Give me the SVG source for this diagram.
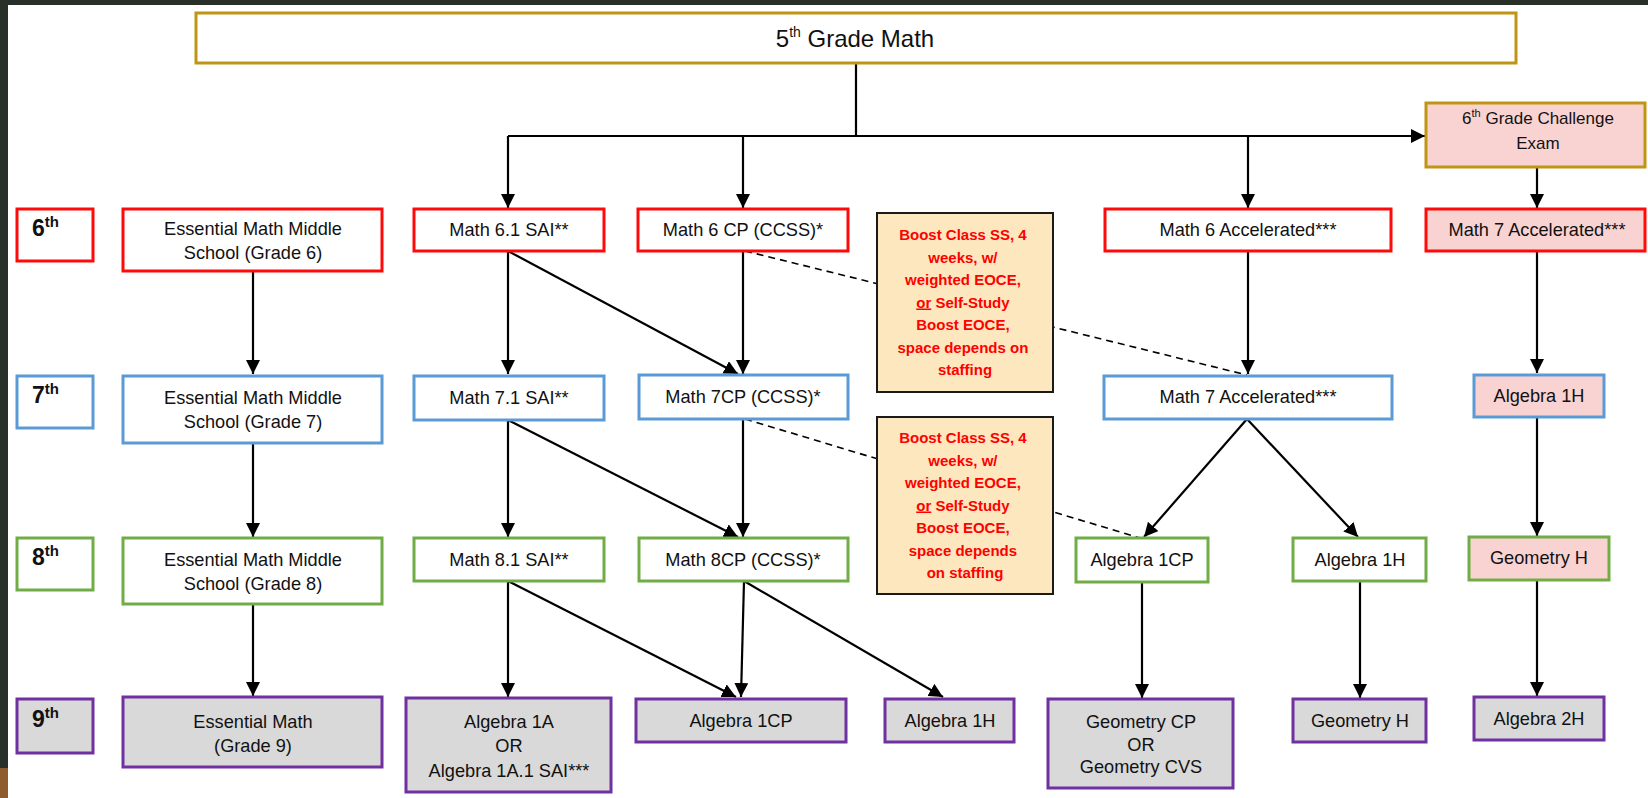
<svg xmlns="http://www.w3.org/2000/svg" width="1648" height="798" viewBox="0 0 1648 798">
  <style>
    text { font-family: "Liberation Sans", Arial, sans-serif; fill: #111; }
    .t { font-size: 18.2px; text-anchor: middle; }
    .lbl { font-size: 23px; font-weight: bold; }
    .sup { font-size: 15px; }
    .boost { font-size: 15px; font-weight: bold; fill: #ff0000; text-anchor: middle; }
    .box { stroke-width: 3; }
    .red { stroke: #ff0a0a; fill: #ffffff; }
    .blue { stroke: #5b9bd5; fill: #ffffff; }
    .green { stroke: #70ad47; fill: #ffffff; }
    .purple { stroke: #7030a0; fill: #d9d9d9; }
    .gold { stroke: #c09414; fill: #ffffff; }
    .pinkfill { fill: #f9d3d2; }
    .note { stroke: #1a1a1a; stroke-width: 2; fill: #fde7bf; }
    .c { stroke: #000; stroke-width: 2.2; fill: none; }
    .arr { marker-end: url(#ah); }
    .dash { stroke: #000; stroke-width: 1.6; stroke-dasharray: 7 5; fill: none; }
  </style>
  <defs>
    <marker id="ah" markerUnits="userSpaceOnUse" markerWidth="14" markerHeight="14" refX="14" refY="7" orient="auto">
      <path d="M0,0 L14,7 L0,14 z" fill="#000"/>
    </marker>
  </defs>

  <!-- page background and frame strips -->
  <rect x="0" y="0" width="1648" height="798" fill="#ffffff"/>
  <rect x="0" y="0" width="1648" height="5" fill="#283029"/>
  <rect x="0" y="0" width="8" height="798" fill="#283029"/>
  <rect x="0" y="768" width="8" height="30" fill="#8c5b2e"/>

  <!-- connectors -->
  <g id="connectors">
    <path class="c" d="M856,63 V136 M508,136 H856"/>
    <path class="c arr" d="M856,136 H1425"/>
    <path class="c arr" d="M508,136 V208"/>
    <path class="c arr" d="M743,136 V208"/>
    <path class="c arr" d="M1248,136 V208"/>
    <path class="c arr" d="M1537,167 V208"/>

    <path class="c arr" d="M253,271 V374"/>
    <path class="c arr" d="M253,443 V537"/>
    <path class="c arr" d="M253,604 V696"/>

    <path class="c arr" d="M508,251 V374"/>
    <path class="c arr" d="M508,420 V537"/>
    <path class="c arr" d="M508,581 V697"/>
    <path class="c arr" d="M508,251 L738,374"/>
    <path class="c arr" d="M508,420 L738,537"/>
    <path class="c arr" d="M508,581 L736,697"/>

    <path class="c arr" d="M743,251 V374"/>
    <path class="c arr" d="M743,419 V537"/>
    <path class="c arr" d="M744,581 L741,697"/>
    <path class="c arr" d="M744,581 L943,697"/>

    <path class="dash" d="M745,251 L1247,375"/>
    <path class="dash" d="M745,419 L1140,538"/>

    <path class="c arr" d="M1248,251 V374"/>
    <path class="c arr" d="M1247,419 L1144,537"/>
    <path class="c arr" d="M1247,419 L1358,537"/>
    <path class="c arr" d="M1142,582 V698"/>
    <path class="c arr" d="M1360,581 V698"/>

    <path class="c arr" d="M1537,251 V373"/>
    <path class="c arr" d="M1537,417 V536"/>
    <path class="c arr" d="M1537,580 V696"/>
  </g>

  <!-- top -->
  <g id="grade5">
    <rect class="box gold" x="196" y="13" width="1320" height="50"/>
    <text x="855" y="47" style="font-size:24px; text-anchor:middle">5<tspan style="font-size:14px" dy="-10">th</tspan><tspan dy="10"> Grade Math</tspan></text>
  </g>
  <g id="challenge">
    <rect class="box gold pinkfill" x="1426" y="103" width="219" height="64"/>
    <text class="t" x="1538" y="124" style="font-size:17px">6<tspan style="font-size:11px" dy="-7">th</tspan><tspan dy="7"> Grade Challenge</tspan></text>
    <text class="t" x="1538" y="149" style="font-size:17px">Exam</text>
  </g>

  <!-- grade labels -->
  <g id="label6"><rect class="box red" x="17" y="209" width="76" height="52"/><text class="lbl" x="32" y="236">6<tspan class="sup" dy="-9">th</tspan></text></g>
  <g id="label7"><rect class="box blue" x="17" y="376" width="76" height="52"/><text class="lbl" x="32" y="403">7<tspan class="sup" dy="-9">th</tspan></text></g>
  <g id="label8"><rect class="box green" x="17" y="538" width="76" height="52"/><text class="lbl" x="32" y="565">8<tspan class="sup" dy="-9">th</tspan></text></g>
  <g id="label9"><rect class="box purple" x="17" y="699" width="76" height="54"/><text class="lbl" x="32" y="727">9<tspan class="sup" dy="-9">th</tspan></text></g>

  <!-- grade 6 row -->
  <g id="ess6"><rect class="box red" x="123" y="209" width="259" height="62"/>
    <text class="t" x="253" y="235">Essential Math Middle</text><text class="t" x="253" y="259">School (Grade 6)</text></g>
  <g id="m61"><rect class="box red" x="414" y="209" width="190" height="42"/><text class="t" x="509" y="236">Math 6.1 SAI**</text></g>
  <g id="m6cp"><rect class="box red" x="638" y="209" width="210" height="42"/><text class="t" x="743" y="236">Math 6 CP (CCSS)*</text></g>
  <g id="m6acc"><rect class="box red" x="1105" y="209" width="286" height="42"/><text class="t" x="1248" y="236">Math 6 Accelerated***</text></g>
  <g id="m7acc6"><rect class="box red pinkfill" x="1426" y="209" width="219" height="42"/><text class="t" x="1537" y="236">Math 7 Accelerated***</text></g>

  <!-- boost notes -->
  <g id="boost1"><rect class="note" x="877" y="213" width="176" height="179"/>
    <text class="boost" x="965">
      <tspan x="965" y="240">Boost Class SS, 4</tspan>
      <tspan x="965" y="262.5">weeks, w/</tspan>
      <tspan x="965" y="285">weighted EOCE,</tspan>
      <tspan x="965" y="307.5"><tspan text-decoration="underline">or</tspan> Self-Study</tspan>
      <tspan x="965" y="330">Boost EOCE,</tspan>
      <tspan x="965" y="352.5">space depends on</tspan>
      <tspan x="965" y="375">staffing</tspan>
    </text></g>
  <g id="boost2"><rect class="note" x="877" y="417" width="176" height="177"/>
    <text class="boost" x="965">
      <tspan x="965" y="443">Boost Class SS, 4</tspan>
      <tspan x="965" y="465.5">weeks, w/</tspan>
      <tspan x="965" y="488">weighted EOCE,</tspan>
      <tspan x="965" y="510.5"><tspan text-decoration="underline">or</tspan> Self-Study</tspan>
      <tspan x="965" y="533">Boost EOCE,</tspan>
      <tspan x="965" y="555.5">space depends</tspan>
      <tspan x="965" y="578">on staffing</tspan>
    </text></g>

  <!-- grade 7 row -->
  <g id="ess7"><rect class="box blue" x="123" y="376" width="259" height="67"/>
    <text class="t" x="253" y="404">Essential Math Middle</text><text class="t" x="253" y="428">School (Grade 7)</text></g>
  <g id="m71"><rect class="box blue" x="414" y="376" width="190" height="44"/><text class="t" x="509" y="404">Math 7.1 SAI**</text></g>
  <g id="m7cp"><rect class="box blue" x="639" y="375" width="209" height="44"/><text class="t" x="743" y="403">Math 7CP (CCSS)*</text></g>
  <g id="m7acc"><rect class="box blue" x="1104" y="376" width="288" height="43"/><text class="t" x="1248" y="403">Math 7 Accelerated***</text></g>
  <g id="alg1h7"><rect class="box blue pinkfill" x="1474" y="375" width="130" height="42"/><text class="t" x="1539" y="402">Algebra 1H</text></g>

  <!-- grade 8 row -->
  <g id="ess8"><rect class="box green" x="123" y="538" width="259" height="66"/>
    <text class="t" x="253" y="566">Essential Math Middle</text><text class="t" x="253" y="590">School (Grade 8)</text></g>
  <g id="m81"><rect class="box green" x="414" y="538" width="190" height="43"/><text class="t" x="509" y="566">Math 8.1 SAI**</text></g>
  <g id="m8cp"><rect class="box green" x="639" y="538" width="209" height="43"/><text class="t" x="743" y="566">Math 8CP (CCSS)*</text></g>
  <g id="alg1cp8"><rect class="box green" x="1076" y="538" width="132" height="44"/><text class="t" x="1142" y="566">Algebra 1CP</text></g>
  <g id="alg1h8"><rect class="box green" x="1293" y="538" width="133" height="43"/><text class="t" x="1360" y="566">Algebra 1H</text></g>
  <g id="geoh8"><rect class="box green pinkfill" x="1469" y="537" width="140" height="43"/><text class="t" x="1539" y="564">Geometry H</text></g>

  <!-- grade 9 row -->
  <g id="ess9"><rect class="box purple" x="123" y="697" width="259" height="70"/>
    <text class="t" x="253" y="728">Essential Math</text><text class="t" x="253" y="752">(Grade 9)</text></g>
  <g id="alg1a"><rect class="box purple" x="406" y="698" width="205" height="94"/>
    <text class="t" x="509" y="728">Algebra 1A</text><text class="t" x="509" y="752">OR</text><text class="t" x="509" y="777">Algebra 1A.1 SAI***</text></g>
  <g id="alg1cp9"><rect class="box purple" x="636" y="699" width="210" height="43"/><text class="t" x="741" y="727">Algebra 1CP</text></g>
  <g id="alg1h9"><rect class="box purple" x="885" y="699" width="129" height="43"/><text class="t" x="950" y="727">Algebra 1H</text></g>
  <g id="geocp"><rect class="box purple" x="1048" y="699" width="185" height="89"/>
    <text class="t" x="1141" y="728">Geometry CP</text><text class="t" x="1141" y="751">OR</text><text class="t" x="1141" y="773">Geometry CVS</text></g>
  <g id="geoh9"><rect class="box purple" x="1293" y="699" width="133" height="43"/><text class="t" x="1360" y="727">Geometry H</text></g>
  <g id="alg2h"><rect class="box purple" x="1474" y="697" width="130" height="43"/><text class="t" x="1539" y="725">Algebra 2H</text></g>
</svg>
